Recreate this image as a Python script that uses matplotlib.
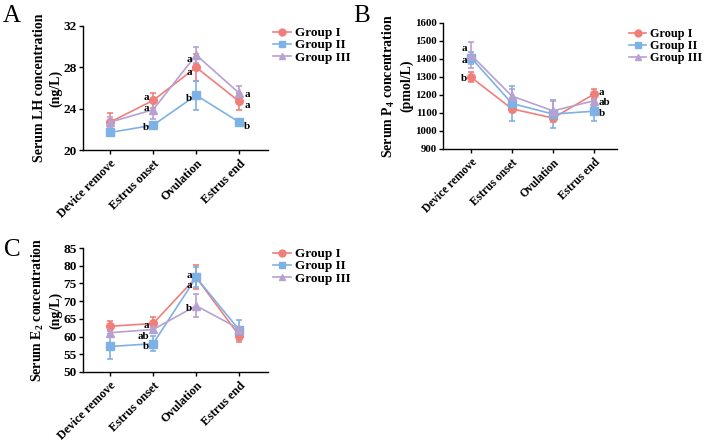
import matplotlib
matplotlib.use("Agg")
import matplotlib.pyplot as plt
from matplotlib.lines import Line2D

plt.rcParams['font.family'] = ['Liberation Serif', 'DejaVu Serif']
plt.rcParams['font.weight'] = 'bold'
plt.rcParams['mathtext.fontset'] = 'custom'
plt.rcParams['mathtext.rm'] = 'Liberation Serif:bold'
plt.rcParams['mathtext.bf'] = 'Liberation Serif:bold'

categories = ["Device remove", "Estrus onset", "Ovulation", "Estrus end"]
groups = ["Group I", "Group II", "Group III"]
colors = ["#F07F79", "#7EB2E6", "#B7A1D1"]
markers = ["o", "s", "^"]

# Panel A: LH (ng/L)
lh_mean = [[22.7, 24.8, 28.0, 24.7],
           [21.7, 22.4, 25.3, 22.7],
           [22.7, 23.9, 29.2, 25.5]]
lh_err = [[0.9, 0.7, 1.3, 0.8],
          [0.2, 0.2, 1.4, 0.3],
          [0.5, 0.9, 0.8, 0.7]]
lh_letters = [(1, 25.1, "a", "L"), (1, 24.0, "a", "L"), (1, 22.2, "b", "L"),
              (2, 28.8, "a", "L"), (2, 27.5, "a", "L"), (2, 25.0, "b", "L"),
              (3, 25.4, "a", "R"), (3, 24.3, "a", "R"), (3, 22.3, "b", "R")]
lh_ticks = [20, 24, 28, 32]

# Panel B: P4 (pmol/L)
p4_mean = [[1299, 1123, 1072, 1205],
           [1408, 1153, 1094, 1110],
           [1423, 1194, 1112, 1168]]
p4_err = [[28, 15, 22, 28],
          [33, 96, 76, 55],
          [72, 40, 55, 33]]
p4_letters = [(0, 1456, "a", "L"), (0, 1390, "a", "L"), (0, 1293, "b", "L"),
              (3, 1212, "a", "R"), (3, 1157, "ab", "R"), (3, 1096, "b", "R")]
p4_ticks = [900, 1000, 1100, 1200, 1300, 1400, 1500, 1600]

# Panel C: E2 (ng/L)
e2_mean = [[62.9, 63.7, 76.7, 60.3],
           [57.2, 58.0, 76.7, 61.9],
           [61.1, 62.0, 68.7, 62.2]]
e2_err = [[1.4, 1.8, 3.4, 1.7],
          [3.5, 2.1, 2.8, 2.8],
          [0.5, 0.5, 3.2, 0.6]]
e2_letters = [(1, 63.1, "a", "L"), (1, 60.1, "ab", "L"), (1, 57.2, "b", "L"),
              (2, 77.2, "a", "L"), (2, 74.5, "a", "L"), (2, 67.8, "b", "L")]
e2_ticks = [50, 55, 60, 65, 70, 75, 80, 85]

W, H = 708, 443
fig = plt.figure(figsize=(W / 100, H / 100), dpi=100)


def px_axes(l, t, r, b):
    return fig.add_axes([l / W, 1 - b / H, (r - l) / W, (b - t) / H])


def panel(ax, means, errs, letters, yticks, ylabel, xlim, tick_fs, xtick_fs,
          leg_fs, lab_fs, labelpad, leg_xy):
    x = list(range(len(categories)))
    for i in range(3):
        ax.errorbar(x, means[i], yerr=errs[i], color=colors[i], marker=markers[i],
                    markersize=5.5, linewidth=1.2, elinewidth=1.2, capsize=2.5,
                    capthick=1.2, label=groups[i], clip_on=False)
    ax.set_xlim(*xlim)
    ax.set_ylim(yticks[0], yticks[-1])
    ax.set_yticks(yticks)
    ax.set_xticks(x)
    ax.set_xticklabels(categories, rotation=45, ha='right', rotation_mode='anchor',
                       fontsize=xtick_fs, fontweight='bold')
    for lab in ax.get_yticklabels():
        lab.set_fontsize(tick_fs)
        lab.set_fontweight('bold')
    ax.spines['top'].set_visible(False)
    ax.spines['right'].set_visible(False)
    for s in ['left', 'bottom']:
        ax.spines[s].set_linewidth(1.0)
    ax.tick_params(axis='y', direction='out', length=3, width=1.0, pad=1.5)
    ax.tick_params(axis='x', direction='out', length=3, width=1.0, pad=2.5)
    ax.set_ylabel(ylabel, fontsize=lab_fs, fontweight='bold', linespacing=1.3,
                  labelpad=labelpad)
    for (xi, yi, t, side) in letters:
        if side == "L":
            ax.annotate(t, (xi, yi), xytext=(-4, 0), textcoords='offset pixels',
                        ha='right', va='center', fontsize=8, fontweight='bold')
        else:
            ax.annotate(t, (xi, yi), xytext=(5, 0), textcoords='offset pixels',
                        ha='left', va='center', fontsize=8, fontweight='bold')
    handles = [Line2D([0], [0], color=colors[i], marker=markers[i], markersize=5,
                      linewidth=1.2) for i in range(3)]
    ax.legend(handles, groups, loc='upper left', bbox_to_anchor=leg_xy, frameon=False,
              prop={'size': leg_fs, 'weight': 'bold'}, handlelength=1.4,
              handletextpad=0.3, labelspacing=0.0, borderaxespad=0, borderpad=0)


axA = px_axes(83, 26, 268, 150)
panel(axA, lh_mean, lh_err, lh_letters, lh_ticks,
      "Serum LH concentration\n(ng/L)", (-0.63, 3.67), 9.5, 8.8, 9.5, 10, 0.5,
      ((273 - 83) / 185, 1 - (27 - 26) / 124))

axB = px_axes(443, 23, 617, 149)
panel(axB, p4_mean, p4_err, p4_letters, p4_ticks,
      "Serum P$_4$ concentration\n(pmol/L)", (-0.68, 3.56), 7.8, 8.3, 8.8, 10, 1.0,
      ((629 - 443) / 174, 1 - (28 - 23) / 126))

axC = px_axes(83, 248, 268, 372)
panel(axC, e2_mean, e2_err, e2_letters, e2_ticks,
      "Serum E$_2$ concentration\n(ng/L)", (-0.63, 3.67), 9.5, 8.8, 9.5, 10, 0.5,
      ((273 - 83) / 185, 1 - (248 - 248) / 124))

fig.text(3 / W, 1 - 5 / H, "A", fontsize=18, fontweight='normal', va='top', ha='left')
fig.text(353 / W, 1 - 5 / H, "B", fontsize=18, fontweight='normal', va='top', ha='left')
fig.text(4 / W, 1 - 239 / H, "C", fontsize=18, fontweight='normal', va='top', ha='left')

fig.savefig("out.png", dpi=100)
